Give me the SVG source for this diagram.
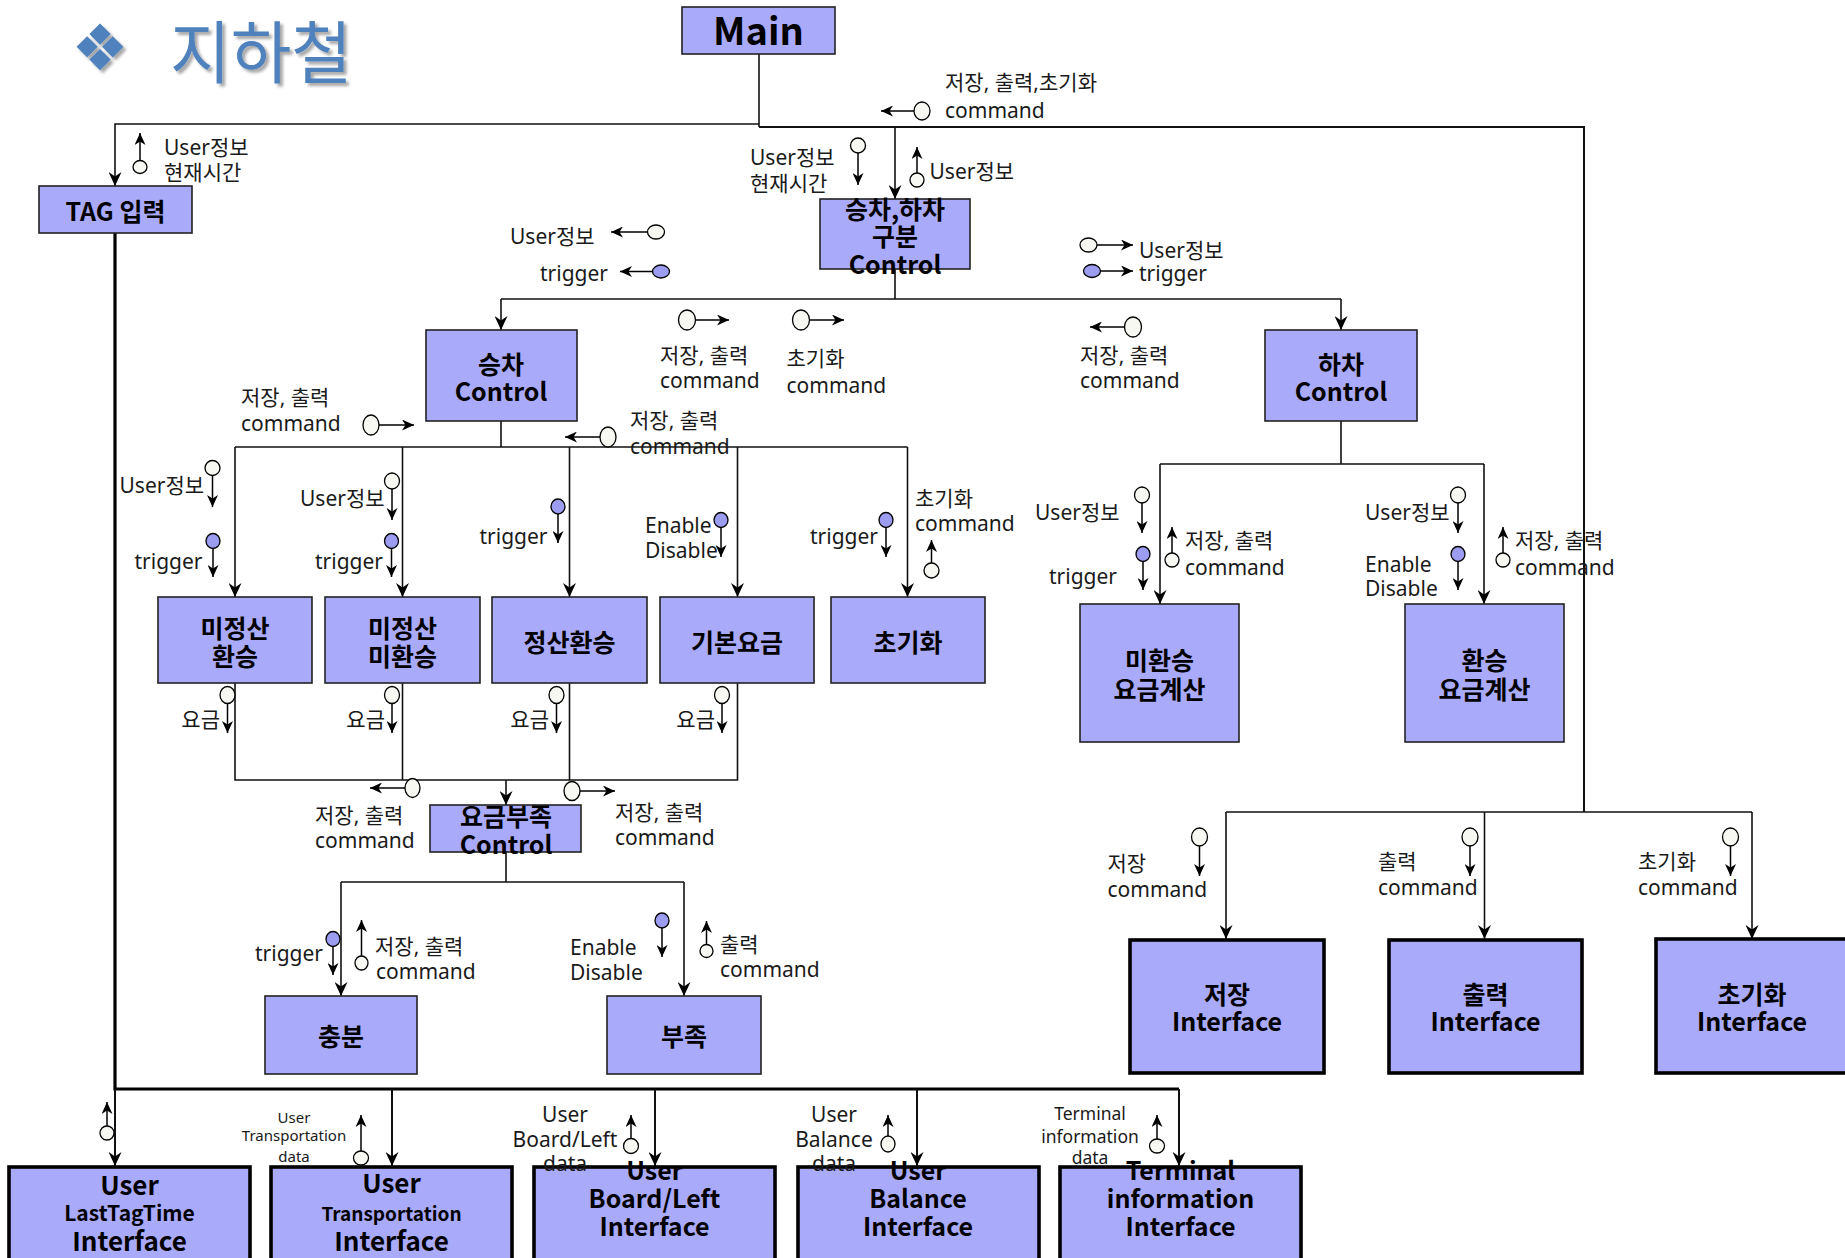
<svg xmlns="http://www.w3.org/2000/svg" width="1845" height="1258" viewBox="0 0 1845 1258">
<defs>
<style>
.ln{fill:none;stroke:#111;stroke-width:1.6}
.bus{fill:none;stroke:#000;stroke-width:3.2}
.sg{stroke:#000;stroke-width:1.5}
.box{fill:#AAAAFA;stroke:#222;stroke-width:1.6}
.ibox{fill:#AAAAFA;stroke:#000;stroke-width:3.6}
.oc{fill:#F8F8F2;stroke:#000;stroke-width:1.3}
.fc{fill:#9C9CF0;stroke:#000;stroke-width:1.3}
.lbl{font-family:"Noto Sans","Noto Sans CJK KR",sans-serif;font-size:21px;fill:#1a1a1a}
.mid{text-anchor:middle}
.bt{font-family:"Noto Sans CJK KR","Noto Sans",sans-serif;font-weight:700;font-size:25px;fill:#000;text-anchor:middle}
.b24{font-size:24px}
</style>
<marker id="ah" viewBox="0 0 14 13" refX="14" refY="6.5" markerWidth="14" markerHeight="13" markerUnits="userSpaceOnUse" orient="auto"><path d="M0,0 L14,6.5 L0,13 L4.5,6.5 z" fill="#000"/></marker>
<marker id="sa" viewBox="0 0 12 11" refX="12" refY="5.5" markerWidth="12" markerHeight="11" markerUnits="userSpaceOnUse" orient="auto"><path d="M0,0 L12,5.5 L0,11 L3.5,5.5 z" fill="#000"/></marker>
<filter id="ds" x="-10%" y="-10%" width="130%" height="130%"><feDropShadow dx="3" dy="3" stdDeviation="1.5" flood-color="#000" flood-opacity="0.35"/></filter>
</defs>
<rect width="1845" height="1258" fill="#fff"/>

<g id="title" filter="url(#ds)">
<text x="100" y="70" font-family="DejaVu Sans" font-size="64" fill="#4F81BD" text-anchor="middle">❖</text>
<text x="170" y="78" font-family="Noto Sans CJK KR" font-size="68" textLength="182" lengthAdjust="spacingAndGlyphs" fill="#4F81BD">지하철</text>
</g>

<g id="connectors">
<path class="ln" d="M759,54 V127"/>
<path class="ln" d="M759,124 H115 V186" marker-end="url(#ah)"/>
<path class="ln" style="stroke-width:2" d="M759,127 H1584 V812"/>
<path class="ln" d="M895,127 V199" marker-end="url(#ah)"/>
<path class="ln" d="M895,269 V299 M501,299 H1341"/>
<path class="ln" d="M501,299 V330" marker-end="url(#ah)"/>
<path class="ln" d="M1341,299 V330" marker-end="url(#ah)"/>
<path class="ln" d="M501,421 V447 M235,447 H907.5"/>
<path class="ln" d="M235,447 V597" marker-end="url(#ah)"/>
<path class="ln" d="M402.5,447 V597" marker-end="url(#ah)"/>
<path class="ln" d="M569.5,447 V597" marker-end="url(#ah)"/>
<path class="ln" d="M737.5,447 V597" marker-end="url(#ah)"/>
<path class="ln" d="M907.5,447 V597" marker-end="url(#ah)"/>
<path class="ln" d="M1341,421 V464 M1160,464 H1484"/>
<path class="ln" d="M1160,464 V604" marker-end="url(#ah)"/>
<path class="ln" d="M1484,464 V604" marker-end="url(#ah)"/>
<path class="ln" d="M235,683 V780 H737.5 V683 M402.5,683 V780 M569.5,683 V780"/>
<path class="ln" d="M506,780 V805" marker-end="url(#ah)"/>
<path class="ln" d="M506,852 V882 M341,882 H684"/>
<path class="ln" d="M341,882 V996" marker-end="url(#ah)"/>
<path class="ln" d="M684,882 V996" marker-end="url(#ah)"/>
<path class="ln" d="M1226,812 H1752"/>
<path class="ln" d="M1226,812 V939" marker-end="url(#ah)"/>
<path class="ln" d="M1484.5,812 V939" marker-end="url(#ah)"/>
<path class="ln" d="M1752,812 V939" marker-end="url(#ah)"/>
<path class="bus" d="M115,228 V1089 H1179"/>
<path class="ln" style="stroke-width:2" d="M115,1089 V1166" marker-end="url(#ah)"/>
<path class="ln" style="stroke-width:2" d="M392,1089 V1166" marker-end="url(#ah)"/>
<path class="ln" style="stroke-width:2" d="M655,1089 V1166" marker-end="url(#ah)"/>
<path class="ln" style="stroke-width:2" d="M917,1089 V1166" marker-end="url(#ah)"/>
<path class="ln" style="stroke-width:2" d="M1179,1089 V1166" marker-end="url(#ah)"/>
</g>

<g id="n-main"><rect class="box" x="682" y="7" width="153" height="47"/><text class="bt" x="758.5" y="45" style="font-size:38px">Main</text></g>
<g id="n-tag"><rect class="box" x="39" y="186" width="153" height="47"/><text class="bt" x="115.5" y="221">TAG 입력</text></g>
<g id="n-split"><rect class="box" x="820" y="199" width="150" height="70"/><text class="bt" x="895" y="219">승차,하차</text><text class="bt" x="895" y="246">구분</text><text class="bt" x="895" y="274">Control</text></g>
<g id="n-board"><rect class="box" x="426" y="330" width="151" height="91"/><text class="bt" x="501" y="374">승차</text><text class="bt" x="501" y="401">Control</text></g>
<g id="n-alight"><rect class="box" x="1265" y="330" width="152" height="91"/><text class="bt" x="1341" y="374">하차</text><text class="bt" x="1341" y="401">Control</text></g>
<g id="n-unpaid-transfer"><rect class="box" x="158" y="597" width="154" height="86"/><text class="bt" x="235" y="638">미정산</text><text class="bt" x="235" y="666">환승</text></g>
<g id="n-unpaid-notransfer"><rect class="box" x="325" y="597" width="155" height="86"/><text class="bt" x="402.5" y="638">미정산</text><text class="bt" x="402.5" y="666">미환승</text></g>
<g id="n-paid-transfer"><rect class="box" x="492" y="597" width="155" height="86"/><text class="bt" x="569.5" y="652">정산환승</text></g>
<g id="n-basefare"><rect class="box" x="660" y="597" width="154" height="86"/><text class="bt" x="737" y="652">기본요금</text></g>
<g id="n-init"><rect class="box" x="831" y="597" width="154" height="86"/><text class="bt" x="908" y="652">초기화</text></g>
<g id="n-fare-notransfer"><rect class="box" x="1080" y="604" width="159" height="138"/><text class="bt" x="1159.5" y="670">미환승</text><text class="bt" x="1159.5" y="699">요금계산</text></g>
<g id="n-fare-transfer"><rect class="box" x="1405" y="604" width="159" height="138"/><text class="bt" x="1484.5" y="670">환승</text><text class="bt" x="1484.5" y="699">요금계산</text></g>
<g id="n-shortage"><rect class="box" x="430" y="805" width="151" height="47"/><text class="bt" x="506" y="826">요금부족</text><text class="bt" x="506" y="854">Control</text></g>
<g id="n-enough"><rect class="box" x="265" y="996" width="152" height="78"/><text class="bt" x="341" y="1046">충분</text></g>
<g id="n-lack"><rect class="box" x="607" y="996" width="154" height="78"/><text class="bt" x="684" y="1046">부족</text></g>
<g id="n-save-if"><rect class="ibox" x="1130" y="940" width="194" height="133"/><text class="bt" x="1227" y="1004">저장</text><text class="bt" x="1227" y="1031">Interface</text></g>
<g id="n-print-if"><rect class="ibox" x="1389" y="940" width="193" height="133"/><text class="bt" x="1485.5" y="1004">출력</text><text class="bt" x="1485.5" y="1031">Interface</text></g>
<g id="n-init-if"><rect class="ibox" x="1656" y="939" width="194" height="134"/><text class="bt" x="1752" y="1004">초기화</text><text class="bt" x="1752" y="1031">Interface</text></g>
<g id="n-lasttag-if"><rect class="ibox" x="9" y="1167" width="241" height="100"/><text class="bt" x="129.5" y="1195" style="font-size:26px">User</text><text class="bt" x="129.5" y="1221" style="font-size:21px">LastTagTime</text><text class="bt" x="129.5" y="1251" style="font-size:26px">Interface</text></g>
<g id="n-transport-if"><rect class="ibox" x="271" y="1167" width="241" height="100"/><text class="bt" x="391.5" y="1193" style="font-size:26px">User</text><text class="bt" x="391.5" y="1221" style="font-size:19px">Transportation</text><text class="bt" x="391.5" y="1251" style="font-size:26px">Interface</text></g>
<g id="n-boardleft-if"><rect class="ibox" x="534" y="1167" width="241" height="100"/><text class="bt" x="654.5" y="1180">User</text><text class="bt" x="654.5" y="1208">Board/Left</text><text class="bt" x="654.5" y="1236">Interface</text></g>
<g id="n-balance-if"><rect class="ibox" x="798" y="1167" width="241" height="100"/><text class="bt" x="918" y="1180">User</text><text class="bt" x="918" y="1208">Balance</text><text class="bt" x="918" y="1236">Interface</text></g>
<g id="n-terminal-if"><rect class="ibox" x="1060" y="1167" width="241" height="100"/><text class="bt" x="1180.5" y="1180">Terminal</text><text class="bt" x="1180.5" y="1208">information</text><text class="bt" x="1180.5" y="1236">Interface</text></g>

<g id="signals">
<ellipse class="oc" cx="140" cy="167" rx="7" ry="6.5"/><line class="sg" x1="140" y1="160.5" x2="140" y2="133" marker-end="url(#sa)"/>
<ellipse class="oc" cx="922" cy="111" rx="8" ry="9"/><line class="sg" x1="914" y1="111" x2="881" y2="111" marker-end="url(#sa)"/>
<ellipse class="oc" cx="858" cy="145.5" rx="7.5" ry="7.5"/><line class="sg" x1="858" y1="153" x2="858" y2="185" marker-end="url(#sa)"/>
<ellipse class="oc" cx="917" cy="180" rx="7" ry="7"/><line class="sg" x1="917" y1="173" x2="917" y2="147" marker-end="url(#sa)"/>
<ellipse class="oc" cx="656" cy="232" rx="8.5" ry="7"/><line class="sg" x1="647.5" y1="232" x2="611" y2="232" marker-end="url(#sa)"/>
<ellipse class="fc" cx="661" cy="271.5" rx="8.5" ry="6.5"/><line class="sg" x1="652.5" y1="271.5" x2="620" y2="271.5" marker-end="url(#sa)"/>
<ellipse class="oc" cx="1088.5" cy="245" rx="8.5" ry="7"/><line class="sg" x1="1097" y1="245" x2="1133" y2="245" marker-end="url(#sa)"/>
<ellipse class="fc" cx="1092" cy="271" rx="8.5" ry="6.5"/><line class="sg" x1="1100.5" y1="271" x2="1133" y2="271" marker-end="url(#sa)"/>
<ellipse class="oc" cx="687" cy="320" rx="8.5" ry="10"/><line class="sg" x1="695.5" y1="320" x2="729" y2="320" marker-end="url(#sa)"/>
<ellipse class="oc" cx="801" cy="320" rx="8.5" ry="10"/><line class="sg" x1="809.5" y1="320" x2="844" y2="320" marker-end="url(#sa)"/>
<ellipse class="oc" cx="1133" cy="327" rx="8.5" ry="10"/><line class="sg" x1="1124.5" y1="327" x2="1090" y2="327" marker-end="url(#sa)"/>
<ellipse class="oc" cx="371" cy="425" rx="8" ry="10"/><line class="sg" x1="379" y1="425" x2="414" y2="425" marker-end="url(#sa)"/>
<ellipse class="oc" cx="608" cy="437" rx="8" ry="10"/><line class="sg" x1="600" y1="437" x2="565" y2="437" marker-end="url(#sa)"/>
<ellipse class="oc" cx="212.5" cy="468" rx="7.5" ry="7.5"/><line class="sg" x1="212.5" y1="475.5" x2="212.5" y2="507" marker-end="url(#sa)"/>
<ellipse class="fc" cx="213" cy="541" rx="7" ry="7.5"/><line class="sg" x1="213" y1="548.5" x2="213" y2="577" marker-end="url(#sa)"/>
<ellipse class="oc" cx="392" cy="481" rx="7.5" ry="8"/><line class="sg" x1="392" y1="489" x2="392" y2="520" marker-end="url(#sa)"/>
<ellipse class="fc" cx="391.5" cy="541" rx="7" ry="7.5"/><line class="sg" x1="391.5" y1="548.5" x2="391.5" y2="577" marker-end="url(#sa)"/>
<ellipse class="fc" cx="558" cy="506.5" rx="7" ry="7.5"/><line class="sg" x1="558" y1="514" x2="558" y2="543" marker-end="url(#sa)"/>
<ellipse class="fc" cx="721" cy="520" rx="7" ry="7.5"/><line class="sg" x1="721" y1="527.5" x2="721" y2="557" marker-end="url(#sa)"/>
<ellipse class="fc" cx="886" cy="520" rx="7" ry="7.5"/><line class="sg" x1="886" y1="527.5" x2="886" y2="557" marker-end="url(#sa)"/>
<ellipse class="oc" cx="931.5" cy="570.5" rx="7.5" ry="7.5"/><line class="sg" x1="931.5" y1="563" x2="931.5" y2="540" marker-end="url(#sa)"/>
<ellipse class="oc" cx="1142" cy="495" rx="7.5" ry="8"/><line class="sg" x1="1142" y1="503" x2="1142" y2="533" marker-end="url(#sa)"/>
<ellipse class="fc" cx="1143" cy="554" rx="7" ry="7.5"/><line class="sg" x1="1143" y1="561.5" x2="1143" y2="590" marker-end="url(#sa)"/>
<ellipse class="oc" cx="1172" cy="560" rx="7" ry="7"/><line class="sg" x1="1172" y1="553" x2="1172" y2="527" marker-end="url(#sa)"/>
<ellipse class="oc" cx="1458" cy="495" rx="7.5" ry="8"/><line class="sg" x1="1458" y1="503" x2="1458" y2="533" marker-end="url(#sa)"/>
<ellipse class="fc" cx="1458" cy="554" rx="7" ry="7.5"/><line class="sg" x1="1458" y1="561.5" x2="1458" y2="590" marker-end="url(#sa)"/>
<ellipse class="oc" cx="1503" cy="560" rx="7" ry="7"/><line class="sg" x1="1503" y1="553" x2="1503" y2="527" marker-end="url(#sa)"/>
<ellipse class="oc" cx="227.5" cy="695" rx="7.5" ry="8.5"/><line class="sg" x1="227.5" y1="703.5" x2="227.5" y2="733" marker-end="url(#sa)"/>
<ellipse class="oc" cx="392" cy="695" rx="7.5" ry="8.5"/><line class="sg" x1="392" y1="703.5" x2="392" y2="733" marker-end="url(#sa)"/>
<ellipse class="oc" cx="556.5" cy="695" rx="7.5" ry="8.5"/><line class="sg" x1="556.5" y1="703.5" x2="556.5" y2="733" marker-end="url(#sa)"/>
<ellipse class="oc" cx="722" cy="695" rx="7.5" ry="8.5"/><line class="sg" x1="722" y1="703.5" x2="722" y2="733" marker-end="url(#sa)"/>
<ellipse class="oc" cx="412.5" cy="788" rx="7.5" ry="9.5"/><line class="sg" x1="405" y1="788" x2="370" y2="788" marker-end="url(#sa)"/>
<ellipse class="oc" cx="572" cy="791" rx="8" ry="9.5"/><line class="sg" x1="580" y1="791" x2="615" y2="791" marker-end="url(#sa)"/>
<ellipse class="fc" cx="333" cy="939" rx="7" ry="7.5"/><line class="sg" x1="333" y1="946.5" x2="333" y2="975" marker-end="url(#sa)"/>
<ellipse class="oc" cx="361.5" cy="963" rx="6.5" ry="7"/><line class="sg" x1="361.5" y1="956" x2="361.5" y2="920" marker-end="url(#sa)"/>
<ellipse class="fc" cx="662" cy="920.5" rx="7" ry="7.5"/><line class="sg" x1="662" y1="928" x2="662" y2="957" marker-end="url(#sa)"/>
<ellipse class="oc" cx="706.5" cy="951" rx="6.5" ry="6.5"/><line class="sg" x1="706.5" y1="944.5" x2="706.5" y2="921" marker-end="url(#sa)"/>
<ellipse class="oc" cx="1199.5" cy="837" rx="8" ry="9"/><line class="sg" x1="1199.5" y1="846" x2="1199.5" y2="876" marker-end="url(#sa)"/>
<ellipse class="oc" cx="1470" cy="837" rx="8" ry="9"/><line class="sg" x1="1470" y1="846" x2="1470" y2="876" marker-end="url(#sa)"/>
<ellipse class="oc" cx="1730.5" cy="837" rx="8" ry="9"/><line class="sg" x1="1730.5" y1="846" x2="1730.5" y2="876" marker-end="url(#sa)"/>
<ellipse class="oc" cx="107" cy="1133" rx="7" ry="7"/><line class="sg" x1="107" y1="1126" x2="107" y2="1102" marker-end="url(#sa)"/>
<ellipse class="oc" cx="361" cy="1158" rx="7.5" ry="7"/><line class="sg" x1="361" y1="1151" x2="361" y2="1115" marker-end="url(#sa)"/>
<ellipse class="oc" cx="631" cy="1146" rx="7.5" ry="7.5"/><line class="sg" x1="631" y1="1138.5" x2="631" y2="1115" marker-end="url(#sa)"/>
<ellipse class="oc" cx="888" cy="1144" rx="7" ry="8"/><line class="sg" x1="888" y1="1136" x2="888" y2="1115" marker-end="url(#sa)"/>
<ellipse class="oc" cx="1157" cy="1146" rx="7.5" ry="7"/><line class="sg" x1="1157" y1="1139" x2="1157" y2="1115" marker-end="url(#sa)"/>
</g>

<g id="labels" class="lbl">
<text x="164" y="155">User정보</text><text x="164" y="180">현재시간</text>
<text x="945" y="90">저장, 출력,초기화</text><text x="945" y="118">command</text>
<text x="750" y="165">User정보</text><text x="750" y="191">현재시간</text>
<text x="929.5" y="179">User정보</text>
<text x="510" y="244">User정보</text>
<text x="540" y="281">trigger</text>
<text x="1139" y="258">User정보</text>
<text x="1139" y="281">trigger</text>
<text x="660" y="363">저장, 출력</text><text x="660" y="388">command</text>
<text x="786.5" y="366">초기화</text><text x="786.5" y="393">command</text>
<text x="1080" y="363">저장, 출력</text><text x="1080" y="388">command</text>
<text x="241" y="405">저장, 출력</text><text x="241" y="431">command</text>
<text x="630" y="428">저장, 출력</text><text x="630" y="454">command</text>
<text x="119.5" y="493">User정보</text>
<text x="134.5" y="569">trigger</text>
<text x="300" y="506">User정보</text>
<text x="315" y="569">trigger</text>
<text x="479.5" y="544">trigger</text>
<text x="645" y="533">Enable</text><text x="645" y="558">Disable</text>
<text x="810" y="544">trigger</text>
<text x="915" y="506">초기화</text><text x="915" y="531">command</text>
<text x="1035" y="520">User정보</text>
<text x="1049" y="584">trigger</text>
<text x="1185" y="548">저장, 출력</text><text x="1185" y="575">command</text>
<text x="1365" y="520">User정보</text>
<text x="1365" y="572">Enable</text><text x="1365" y="596">Disable</text>
<text x="1515" y="548">저장, 출력</text><text x="1515" y="575">command</text>
<text x="220" y="727" text-anchor="end">요금</text>
<text x="385" y="727" text-anchor="end">요금</text>
<text x="549" y="727" text-anchor="end">요금</text>
<text x="715" y="727" text-anchor="end">요금</text>
<text x="315" y="823">저장, 출력</text><text x="315" y="848">command</text>
<text x="615" y="820">저장, 출력</text><text x="615" y="845">command</text>
<text x="255" y="961">trigger</text>
<text x="375" y="954">저장, 출력</text><text x="376" y="979">command</text>
<text x="570" y="955">Enable</text><text x="570" y="980">Disable</text>
<text x="720" y="952">출력</text><text x="720" y="977">command</text>
<text x="1107.5" y="871">저장</text><text x="1107.5" y="897">command</text>
<text x="1378" y="869">출력</text><text x="1378" y="895">command</text>
<text x="1638" y="869">초기화</text><text x="1638" y="895">command</text>
<text class="mid" x="294" y="1122.5" font-size="15">User</text><text class="mid" x="294" y="1141" font-size="15">Transportation</text><text class="mid" x="294" y="1162" font-size="15">data</text>
<text class="mid" x="565" y="1121.5">User</text><text class="mid" x="565" y="1147">Board/Left</text><text class="mid" x="565" y="1171">data</text>
<text class="mid" x="834" y="1121.5">User</text><text class="mid" x="834" y="1147">Balance</text><text class="mid" x="834" y="1171">data</text>
<text class="mid" x="1090" y="1120" font-size="17.5">Terminal</text><text class="mid" x="1090" y="1143" font-size="17.5">information</text><text class="mid" x="1090" y="1164" font-size="17.5">data</text>
</g>
</svg>
